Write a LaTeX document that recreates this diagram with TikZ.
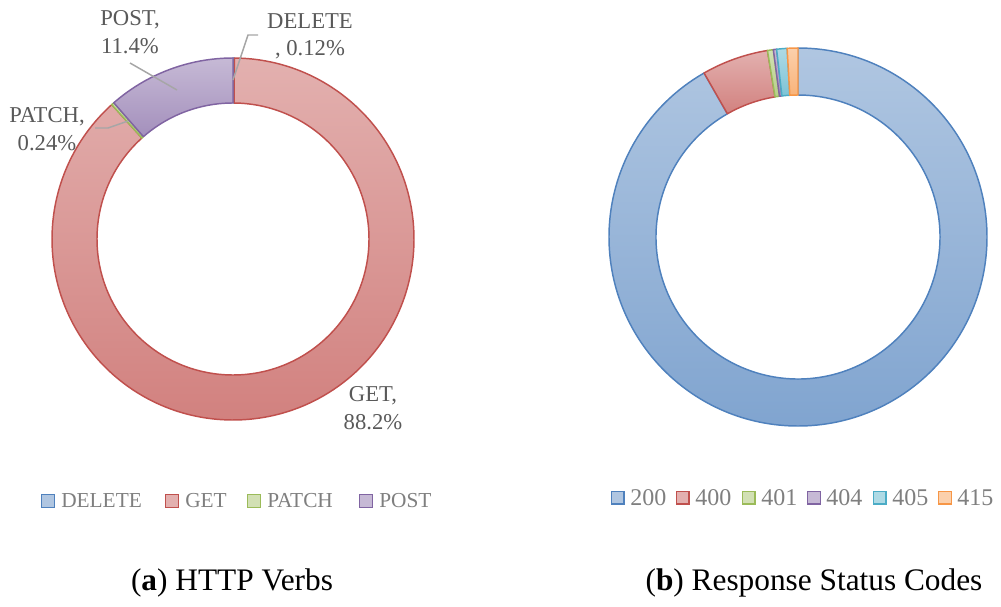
\documentclass[tikz,border=0pt]{standalone}
\usepackage{fontspec}
\setmainfont{Liberation Serif}
\usepackage{tikz}
\definecolor{xlblue}{HTML}{4F81BD}
\definecolor{xlred}{HTML}{C0504D}
\definecolor{xlgreen}{HTML}{9BBB59}
\definecolor{xlpurple}{HTML}{8064A2}
\definecolor{xlaqua}{HTML}{4BACC6}
\definecolor{xlorange}{HTML}{F79646}
\definecolor{lbltext}{HTML}{595959}
\definecolor{legtext}{HTML}{7F7F7F}
\definecolor{leadgray}{HTML}{A6A6A6}
\tikzstyle{slice}=[line width=1.1pt, line join=round]
\tikzstyle{datalabel}=[text=lbltext, font=\fontsize{17}{20.5}\selectfont, align=center, inner sep=0pt]
\tikzstyle{legendbox}=[draw, line width=1.1pt, minimum size=9.4pt, inner sep=0pt]
\tikzstyle{legendtext}=[text=legtext, anchor=west, inner sep=0pt]
\tikzstyle{leaderline}=[draw=leadgray, line width=1.1pt]
\tikzstyle{caption}=[font=\fontsize{23.5}{27}\selectfont]
% cx, cy, outer, inner, from, to, colour
\newcommand{\donutpart}[7]{%
  \draw[slice, draw=#7, top color=#7!45!white, bottom color=#7!72!white]
    ([shift={(#5:#3)}]#1,#2) arc[start angle=#5, end angle=#6, radius=#3]
    -- ([shift={(#6:#4)}]#1,#2) arc[start angle=#6, end angle=#5, radius=#4] -- cycle;}

\begin{document}
\begin{tikzpicture}[x=0.75pt, y=-0.75pt]
        \useasboundingbox (0,0) rectangle (1001,607);
        % (a) verbs
        \foreach \a/\b/\col in {-90/-89.57/xlblue, -89.57/227.95/xlred, 227.95/228.81/xlgreen, 228.81/270/xlpurple}
             \donutpart{233}{239}{181}{136}{\a}{\b}{\col};
        % (b) status codes
        \foreach \a/\b/\col in {-90/240.2/xlblue, 240.2/260.7/xlred, 260.7/262.5/xlgreen, 262.5/263.5/xlpurple, 263.5/266.7/xlaqua, 266.7/270/xlorange}
             \donutpart{798}{237}{189}{142}{\a}{\b}{\col};
        % data labels
        \node[datalabel] (lblPOST) at (130,32) {POST,\\11.4\%};
        \node[datalabel] (lblDELETE) at (310,36) {DELETE\\, 0.12\%};
        \node[datalabel] (lblPATCH) at (47,129) {PATCH,\\0.24\%};
        \node[datalabel] (lblGET) at (373,408) {GET,\\88.2\%};
        \coordinate (postA) at (130,63); \coordinate (postB) at (177,90);
        \coordinate (delA) at (258,35); \coordinate (delB) at (233,80);
        \coordinate (patA) at (95,128); \coordinate (patB) at (128,121);
        \draw[leaderline] (postA) -- (postB);
        \draw[leaderline] (delA) -- (248,35) -- (delB);
        \draw[leaderline] (patA) -- (108,128) -- (patB);
        % legends
        \foreach \bx/\tx/\col/\lab in {48/61/xlblue/DELETE, 172/185/xlred/GET, 254/267/xlgreen/PATCH, 366/379/xlpurple/POST} {
             \node[legendbox, draw=\col, fill=\col!45!white] (box\lab) at (\bx,501) {};
             \node[legendtext, font=\fontsize{16}{19}\selectfont] (leg\lab) at (\tx,501) {\lab};
        }
        \foreach \bx/\tx/\col/\lab in {617.5/630/xlblue/200, 682.5/695/xlred/400, 748.5/761/xlgreen/401, 814/826/xlpurple/404, 879.5/892/xlaqua/405, 945/957/xlorange/415} {
             \node[legendbox, draw=\col, fill=\col!45!white] (box\lab) at (\bx,497.5) {};
             \node[legendtext, font=\fontsize{18}{21}\selectfont] (leg\lab) at (\tx,497.5) {\lab};
        }
        % captions
        \node[caption] (capA) at (232,583) {(\textbf{a}) HTTP Verbs};
        \node[caption] (capB) at (814,583) {(\textbf{b}) Response Status Codes};
    \end{tikzpicture}
\end{document}
